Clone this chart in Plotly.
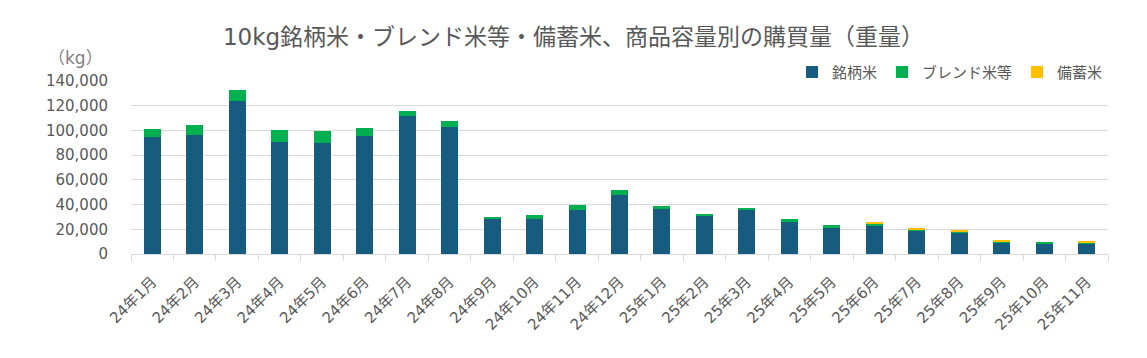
import plotly.graph_objects as go

months = ["24年1月", "24年2月", "24年3月", "24年4月", "24年5月", "24年6月", "24年7月", "24年8月",
          "24年9月", "24年10月", "24年11月", "24年12月", "25年1月", "25年2月", "25年3月", "25年4月",
          "25年5月", "25年6月", "25年7月", "25年8月", "25年9月", "25年10月", "25年11月"]

brand_rice = [95000, 96600, 124000, 90500, 90000, 95300, 111500, 102900,
              28200, 28300, 35800, 47700, 36200, 30400, 35800, 26000,
              21400, 23300, 18900, 17200, 9500, 8700, 8500]
blend_rice = [6200, 7600, 8700, 9500, 9400, 6300, 4300, 4400,
              1700, 3400, 3500, 4000, 2900, 1900, 1600, 2200,
              1800, 1000, 600, 800, 800, 1300, 1000]
stock_rice = [0, 0, 0, 0, 0, 0, 0, 0,
              0, 0, 0, 0, 0, 0, 0, 0,
              0, 1400, 1000, 1400, 1000, 0, 1200]

y_ticks = [0, 20000, 40000, 60000, 80000, 100000, 120000, 140000]

FONT = "DejaVu Sans, Noto Sans CJK JP"
TXT = "#595959"
GRID = "#d9d9d9"

fig = go.Figure()
for name, vals, col in [("銘柄米", brand_rice, "#175C7E"),
                        ("ブレンド米等", blend_rice, "#00B050"),
                        ("備蓄米", stock_rice, "#FFC000")]:
    fig.add_trace(go.Bar(x=months, y=vals, name=name,
                         marker=dict(color=col, line=dict(width=0)),
                         hoverinfo="skip"))

fig.update_layout(
    barmode="stack",
    bargap=0.6,
    width=1147, height=358,
    margin=dict(l=131, r=39, t=81, b=104),
    paper_bgcolor="white", plot_bgcolor="white",
    font=dict(family=FONT, color=TXT, size=15),
    title=dict(text="10kg銘柄米・ブレンド米等・備蓄米、商品容量別の購買量（重量）",
               x=0.5, xref="container", xanchor="center",
               y=1 - 37 / 358, yref="container", yanchor="middle",
               font=dict(size=23, color=TXT, family=FONT)),
    legend=dict(orientation="h", x=1.0, xanchor="right", y=1.05, yanchor="middle",
                font=dict(size=15, color=TXT), itemwidth=30, traceorder="normal",
                bgcolor="rgba(0,0,0,0)"),
    showlegend=True,
)

fig.update_yaxes(range=[0, 140000], tickvals=y_ticks, tickformat=",",
                 showgrid=True, gridcolor=GRID, gridwidth=1,
                 zeroline=False, showline=False, ticks="",
                 ticklabelstandoff=22,
                 tickfont=dict(size=15, color=TXT))

fig.update_xaxes(type="category", tickangle=-45, tickson="boundaries",
                 ticks="outside", ticklen=6, tickcolor=GRID,
                 showline=True, linecolor=GRID, linewidth=1,
                 ticklabelstandoff=12,
                 showgrid=False, tickfont=dict(size=15, color=TXT))

fig.add_annotation(text="（kg）", xref="paper", yref="paper",
                   x=-0.057, y=1.133, xanchor="center", yanchor="middle",
                   showarrow=False, font=dict(size=17, color="#7f7f7f", family=FONT))

fig.write_html("out.html", config={"displayModeBar": False},
               post_script="document.body.style.margin='0px';")
